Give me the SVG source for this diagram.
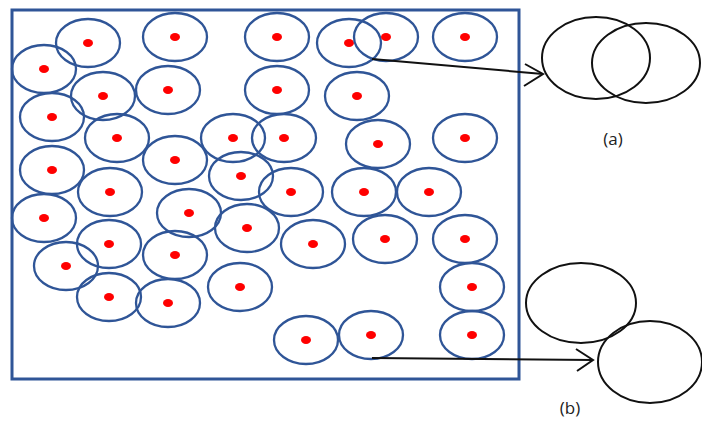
<svg xmlns="http://www.w3.org/2000/svg" width="702" height="421" viewBox="0 0 702 421">
<style>
.c ellipse.o{fill:none;stroke:#2F5597;stroke-width:2.3}
.c ellipse.d{fill:#FF0000;stroke:none}
.big{fill:none;stroke:#111;stroke-width:2}
.lbl{font-family:"Open Sans","Liberation Sans",sans-serif;font-size:17px;fill:#222;text-anchor:middle}
.con line,.con polyline{stroke:#111;stroke-width:2;fill:none}
</style>
<rect x="12" y="10" width="507" height="369" fill="#fff" stroke="#2F5597" stroke-width="3"/>
<g id="particles" class="c">
<g id="p1"><ellipse class="o" cx="88" cy="43" rx="32" ry="24"/><ellipse class="d" cx="88" cy="43" rx="5" ry="4"/></g>
<g id="p2"><ellipse class="o" cx="175" cy="37" rx="32" ry="24"/><ellipse class="d" cx="175" cy="37" rx="5" ry="4"/></g>
<g id="p3"><ellipse class="o" cx="277" cy="37" rx="32" ry="24"/><ellipse class="d" cx="277" cy="37" rx="5" ry="4"/></g>
<g id="p4"><ellipse class="o" cx="349" cy="43" rx="32" ry="24"/><ellipse class="d" cx="349" cy="43" rx="5" ry="4"/></g>
<g id="p5"><ellipse class="o" cx="386" cy="37" rx="32" ry="24"/><ellipse class="d" cx="386" cy="37" rx="5" ry="4"/></g>
<g id="p6"><ellipse class="o" cx="465" cy="37" rx="32" ry="24"/><ellipse class="d" cx="465" cy="37" rx="5" ry="4"/></g>
<g id="p7"><ellipse class="o" cx="44" cy="69" rx="32" ry="24"/><ellipse class="d" cx="44" cy="69" rx="5" ry="4"/></g>
<g id="p8"><ellipse class="o" cx="103" cy="96" rx="32" ry="24"/><ellipse class="d" cx="103" cy="96" rx="5" ry="4"/></g>
<g id="p9"><ellipse class="o" cx="168" cy="90" rx="32" ry="24"/><ellipse class="d" cx="168" cy="90" rx="5" ry="4"/></g>
<g id="p10"><ellipse class="o" cx="277" cy="90" rx="32" ry="24"/><ellipse class="d" cx="277" cy="90" rx="5" ry="4"/></g>
<g id="p11"><ellipse class="o" cx="357" cy="96" rx="32" ry="24"/><ellipse class="d" cx="357" cy="96" rx="5" ry="4"/></g>
<g id="p12"><ellipse class="o" cx="52" cy="117" rx="32" ry="24"/><ellipse class="d" cx="52" cy="117" rx="5" ry="4"/></g>
<g id="p13"><ellipse class="o" cx="117" cy="138" rx="32" ry="24"/><ellipse class="d" cx="117" cy="138" rx="5" ry="4"/></g>
<g id="p14"><ellipse class="o" cx="233" cy="138" rx="32" ry="24"/><ellipse class="d" cx="233" cy="138" rx="5" ry="4"/></g>
<g id="p15"><ellipse class="o" cx="284" cy="138" rx="32" ry="24"/><ellipse class="d" cx="284" cy="138" rx="5" ry="4"/></g>
<g id="p16"><ellipse class="o" cx="378" cy="144" rx="32" ry="24"/><ellipse class="d" cx="378" cy="144" rx="5" ry="4"/></g>
<g id="p17"><ellipse class="o" cx="465" cy="138" rx="32" ry="24"/><ellipse class="d" cx="465" cy="138" rx="5" ry="4"/></g>
<g id="p18"><ellipse class="o" cx="52" cy="170" rx="32" ry="24"/><ellipse class="d" cx="52" cy="170" rx="5" ry="4"/></g>
<g id="p19"><ellipse class="o" cx="175" cy="160" rx="32" ry="24"/><ellipse class="d" cx="175" cy="160" rx="5" ry="4"/></g>
<g id="p20"><ellipse class="o" cx="241" cy="176" rx="32" ry="24"/><ellipse class="d" cx="241" cy="176" rx="5" ry="4"/></g>
<g id="p21"><ellipse class="o" cx="110" cy="192" rx="32" ry="24"/><ellipse class="d" cx="110" cy="192" rx="5" ry="4"/></g>
<g id="p22"><ellipse class="o" cx="291" cy="192" rx="32" ry="24"/><ellipse class="d" cx="291" cy="192" rx="5" ry="4"/></g>
<g id="p23"><ellipse class="o" cx="364" cy="192" rx="32" ry="24"/><ellipse class="d" cx="364" cy="192" rx="5" ry="4"/></g>
<g id="p24"><ellipse class="o" cx="429" cy="192" rx="32" ry="24"/><ellipse class="d" cx="429" cy="192" rx="5" ry="4"/></g>
<g id="p25"><ellipse class="o" cx="44" cy="218" rx="32" ry="24"/><ellipse class="d" cx="44" cy="218" rx="5" ry="4"/></g>
<g id="p26"><ellipse class="o" cx="189" cy="213" rx="32" ry="24"/><ellipse class="d" cx="189" cy="213" rx="5" ry="4"/></g>
<g id="p27"><ellipse class="o" cx="247" cy="228" rx="32" ry="24"/><ellipse class="d" cx="247" cy="228" rx="5" ry="4"/></g>
<g id="p28"><ellipse class="o" cx="313" cy="244" rx="32" ry="24"/><ellipse class="d" cx="313" cy="244" rx="5" ry="4"/></g>
<g id="p29"><ellipse class="o" cx="385" cy="239" rx="32" ry="24"/><ellipse class="d" cx="385" cy="239" rx="5" ry="4"/></g>
<g id="p30"><ellipse class="o" cx="465" cy="239" rx="32" ry="24"/><ellipse class="d" cx="465" cy="239" rx="5" ry="4"/></g>
<g id="p31"><ellipse class="o" cx="109" cy="244" rx="32" ry="24"/><ellipse class="d" cx="109" cy="244" rx="5" ry="4"/></g>
<g id="p32"><ellipse class="o" cx="175" cy="255" rx="32" ry="24"/><ellipse class="d" cx="175" cy="255" rx="5" ry="4"/></g>
<g id="p33"><ellipse class="o" cx="66" cy="266" rx="32" ry="24"/><ellipse class="d" cx="66" cy="266" rx="5" ry="4"/></g>
<g id="p34"><ellipse class="o" cx="240" cy="287" rx="32" ry="24"/><ellipse class="d" cx="240" cy="287" rx="5" ry="4"/></g>
<g id="p35"><ellipse class="o" cx="109" cy="297" rx="32" ry="24"/><ellipse class="d" cx="109" cy="297" rx="5" ry="4"/></g>
<g id="p36"><ellipse class="o" cx="168" cy="303" rx="32" ry="24"/><ellipse class="d" cx="168" cy="303" rx="5" ry="4"/></g>
<g id="p37"><ellipse class="o" cx="472" cy="287" rx="32" ry="24"/><ellipse class="d" cx="472" cy="287" rx="5" ry="4"/></g>
<g id="p38"><ellipse class="o" cx="306" cy="340" rx="32" ry="24"/><ellipse class="d" cx="306" cy="340" rx="5" ry="4"/></g>
<g id="p39"><ellipse class="o" cx="371" cy="335" rx="32" ry="24"/><ellipse class="d" cx="371" cy="335" rx="5" ry="4"/></g>
<g id="p40"><ellipse class="o" cx="472" cy="335" rx="32" ry="24"/><ellipse class="d" cx="472" cy="335" rx="5" ry="4"/></g>
</g>
<g id="detail-a">
<ellipse class="big" cx="596" cy="58" rx="54" ry="41"/>
<ellipse class="big" cx="646" cy="63" rx="54" ry="40"/>
<text class="lbl" x="613" y="145">(a)</text>
</g>
<g id="detail-b">
<ellipse class="big" cx="581" cy="303" rx="55" ry="40"/>
<ellipse class="big" cx="650" cy="362" rx="52" ry="41"/>
<text class="lbl" x="570" y="414">(b)</text>
</g>
<g id="connectors" class="con">
<line x1="372" y1="59" x2="543" y2="74"/>
<polyline points="525,64 543,74 524,86"/>
<line x1="372" y1="358" x2="593" y2="360"/>
<polyline points="576,349 593,360 577,371"/>
</g>
</svg>
